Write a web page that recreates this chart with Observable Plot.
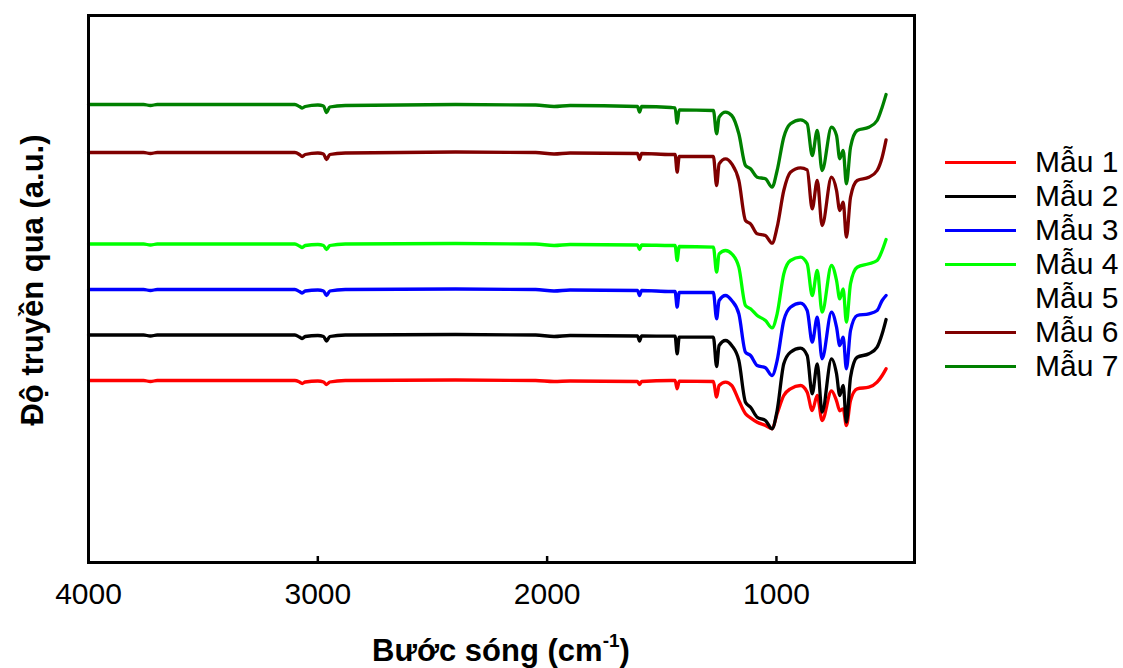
<!DOCTYPE html>
<html>
<head>
<meta charset="utf-8">
<script src="https://cdn.jsdelivr.net/npm/d3@7"></script>
<script src="https://cdn.jsdelivr.net/npm/@observablehq/plot@0.6"></script>
<style>
  html, body { margin: 0; padding: 0; background: #fff; }
  #wrap { position: relative; width: 1123px; height: 668px; font-family: "Liberation Sans", Arial, sans-serif; color: #000; }
  #wrap svg { position: absolute; left: 0; top: 0; }
  .xtitle { position: absolute; left: 88px; width: 826px; top: 634px; text-align: center; font-weight: bold; font-size: 31px; line-height: 34px; white-space: nowrap; }
  .xtitle sup { font-size: 19px; vertical-align: 0; position: relative; top: -14px; }
  .ytitle { position: absolute; left: 33px; top: 280px; transform: translate(-50%, -50%) rotate(-90deg); font-weight: bold; font-size: 31px; line-height: 34px; white-space: nowrap; }
  .leg-line { position: absolute; left: 945px; width: 71px; height: 3px; }
  .leg-text { position: absolute; left: 1035px; font-size: 30px; line-height: 30px; white-space: nowrap; }
</style>
</head>
<body>
<div id="wrap"></div>
<script>
// Wavenumber grid (cm^-1), shared by all series
const wavenumber = [
  4000, 3760, 3730, 3700, 3100, 3080, 3068, 3055, 3000, 2975, 2962, 2948, 2880, 2400, 2050, 1970, 1900, 1606, 1597, 1588, 1460,
  1442, 1433, 1424, 1275, 1261, 1250, 1222, 1195, 1164, 1135, 1113, 1084, 1048, 1019, 997, 968, 939, 895, 866, 844, 822, 801, 760, 738, 724, 709, 695, 677, 648, 597, 561, 539, 522
];

// Transmittance (a.u., offset-stacked)
const mau1 = [182, 182, 181, 182, 182, 180.5, 179, 180.5, 181.5, 180.5, 178, 180.5, 182, 182.5, 182, 181, 181.5, 181, 178, 181, 182,
  182, 173.7, 181.3, 181, 165.3, 177, 180.3, 177, 162, 148.7, 144.7, 140.3, 137, 133.7, 148.7, 167, 173.7, 177, 170.3, 152, 167, 142, 171.7, 161.7, 151.7, 153.7, 137, 162, 173.7, 175.3, 180.3, 187, 193.7];
const mau2 = [227.5, 227.5, 226.5, 227.5, 227.5, 225.5, 224, 226, 227, 226, 221.5, 226, 227.5, 228, 227.5, 226, 227, 226.5, 221.5, 226.5, 226.3,
  226.3, 208.7, 225.3, 225.3, 196, 217, 222, 217, 202, 160.3, 155.3, 145.3, 142, 133.7, 152, 198.7, 210.3, 214.3, 207, 168.7, 198.7, 150.3, 203.7, 188.7, 167, 177, 140.3, 185.3, 205.3, 208.7, 215.3, 228.7, 243];
const mau3 = [273, 273, 272, 273, 273, 271, 269.5, 271.5, 272.5, 271.5, 267, 271.5, 273, 273.5, 273, 271.5, 272.5, 272, 267, 272, 271,
  271, 255.3, 270, 270, 243.7, 262, 267, 262, 248.7, 210.3, 207, 197, 194.7, 187, 202, 242, 255.3, 259.3, 252, 220.3, 245.3, 203.7, 250.3, 235.3, 217, 225.3, 193.7, 232, 247, 248.7, 252, 262, 267];
const mau4 = [318.5, 318.5, 317.5, 318.5, 318.5, 316.5, 315, 317, 318, 317, 313, 317, 318.5, 319, 318.5, 317, 318, 317.5, 313, 317.5, 317,
  317, 302, 316, 315.3, 290.3, 308.7, 312, 308.7, 295.3, 257, 253.7, 247, 242, 234.7, 248.7, 288.7, 302, 305.3, 298.7, 267, 292, 250.3, 297, 282, 263.7, 273.7, 240.3, 278.7, 295.3, 298.7, 302, 312, 323];
const mau6 = [410, 410, 409, 410, 410, 408, 406, 408, 409.5, 408.5, 403, 408, 409.5, 410.5, 410, 408.5, 409.5, 409, 403, 409, 408,
  408, 390.3, 406, 406, 377, 398.7, 403.7, 398.7, 382, 342, 338.7, 328.7, 327, 319.3, 335.3, 372, 390.3, 394.7, 392.7, 353.7, 382, 337, 385.3, 372, 352, 360.3, 325.3, 365.3, 382, 385.3, 392, 405.3, 422.7];
const mau7 = [458, 458, 457, 458, 458, 456, 454.5, 456, 457.5, 456.5, 450, 455.5, 457, 458, 457.5, 456, 457, 456, 450.5, 456, 455,
  454.7, 439.3, 452.7, 452, 428.7, 445.3, 450.3, 447, 428.7, 397, 393.7, 385.3, 383.7, 375.3, 392, 425.3, 438.7, 442.7, 438.7, 407, 432, 392, 435.3, 427, 403.7, 412, 378.7, 415.3, 432, 435.3, 442, 455.3, 468];

const seriesNames = ["Mẫu 1", "Mẫu 2", "Mẫu 3", "Mẫu 4", "Mẫu 5", "Mẫu 6", "Mẫu 7"];
const seriesColors = ["#ff0000", "#000000", "#0000ff", "#00ff00", "#ffffff", "#800000", "#008000"];
const seriesValues = { "Mẫu 1": mau1, "Mẫu 2": mau2, "Mẫu 3": mau3, "Mẫu 4": mau4, "Mẫu 6": mau6, "Mẫu 7": mau7 };
const xTicks = [4000, 3000, 2000, 1000];

const data = [];
for (const name of seriesNames) {
  const vals = seriesValues[name];
  if (!vals) continue;
  vals.forEach((v, i) => data.push({ series: name, wn: wavenumber[i], value: v }));
}

const chart = Plot.plot({
  width: 1123,
  height: 668,
  marginLeft: 88,
  marginRight: 209,
  marginTop: 15,
  marginBottom: 106,
  style: { fontFamily: "'Liberation Sans', Arial, sans-serif", fontSize: "30px", color: "#000", background: "transparent", overflow: "visible" },
  x: { domain: [4000, 398] },
  y: { domain: [0, 547], axis: null },
  color: { domain: seriesNames, range: seriesColors },
  marks: [
    Plot.line(data, { x: "wn", y: "value", z: "series", stroke: "series", strokeWidth: 3.3, curve: "monotone-x", strokeLinejoin: "round", strokeLinecap: "round" }),
    Plot.axisX({ ticks: xTicks, tickSize: 0, tickPadding: 20, fontSize: 30, label: null, tickFormat: d => String(d) }),
    Plot.ruleX(xTicks.slice(1), { y1: 0, y2: 6, stroke: "#000", strokeWidth: 2.5 }),
    Plot.frame({ stroke: "#000", strokeWidth: 3 })
  ]
});

const wrap = document.getElementById("wrap");
wrap.appendChild(chart);

const xt = document.createElement("div");
xt.className = "xtitle";
xt.innerHTML = "Bước sóng (cm<sup>-1</sup>)";
wrap.appendChild(xt);

const yt = document.createElement("div");
yt.className = "ytitle";
yt.textContent = "Độ truyền qua (a.u.)";
wrap.appendChild(yt);

seriesNames.forEach((name, i) => {
  const yc = 162 + i * 34;
  const ln = document.createElement("div");
  ln.className = "leg-line";
  ln.style.top = (yc - 1.5) + "px";
  ln.style.background = seriesColors[i];
  wrap.appendChild(ln);
  const tx = document.createElement("div");
  tx.className = "leg-text";
  tx.style.top = (yc - 15) + "px";
  tx.textContent = name;
  wrap.appendChild(tx);
});
</script>
</body>
</html>
